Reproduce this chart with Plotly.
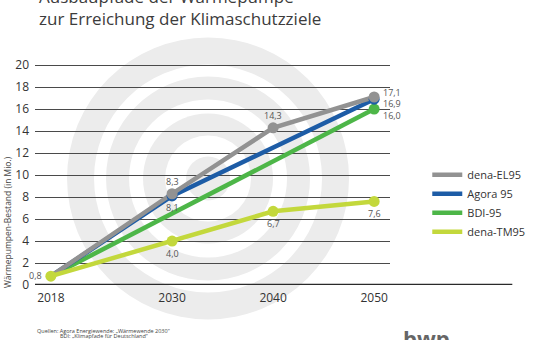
import plotly.graph_objects as go

years = [2018, 2030, 2040, 2050]
series_names = ["dena-EL95", "Agora 95", "BDI-95", "dena-TM95"]
dena_el95 = [0.8, 8.3, 14.3, 17.1]
agora95 = [0.8, 8.1, None, 16.9]
bdi95 = [0.8, None, None, 16.0]
dena_tm95 = [0.8, 4.0, 6.7, 7.6]
y_ticks = list(range(0, 21, 2))

colors = {
    "dena-EL95": "#929292",
    "Agora 95": "#1d5ca6",
    "BDI-95": "#4db648",
    "dena-TM95": "#c3d83c",
}
data = {
    "dena-EL95": dena_el95,
    "Agora 95": agora95,
    "BDI-95": bdi95,
    "dena-TM95": dena_tm95,
}
# which points carry markers
marker_idx = {
    "dena-EL95": [1, 2, 3],
    "Agora 95": [1, 3],
    "BDI-95": [3],
    "dena-TM95": [0, 1, 2, 3],
}
draw_order = ["BDI-95", "Agora 95", "dena-EL95", "dena-TM95"]
legend_rank = {n: i for i, n in enumerate(series_names)}

fig = go.Figure()
for name in draw_order:
    fig.add_trace(go.Scatter(
        x=years, y=data[name], mode="lines", name=name,
        connectgaps=True, line=dict(color=colors[name], width=4.5),
        legendrank=legend_rank[name] + 1, hoverinfo="skip",
    ))
for name in draw_order:
    idx = marker_idx[name]
    fig.add_trace(go.Scatter(
        x=[years[i] for i in idx], y=[data[name][i] for i in idx],
        mode="markers", showlegend=False,
        marker=dict(color=colors[name], size=11), hoverinfo="skip",
    ))

# data labels: (series, index, xshift, yshift)
label_specs = [
    ("dena-TM95", 0, -15, 1),
    ("dena-EL95", 1, 0, 12),
    ("Agora 95", 1, 0, -12),
    ("dena-TM95", 1, 0, -12),
    ("dena-EL95", 2, 0, 12),
    ("dena-TM95", 2, 0, -12),
    ("dena-TM95", 3, 0, -12),
    ("dena-EL95", 3, 18, 4),
    ("Agora 95", 3, 18, -4),
    ("BDI-95", 3, 18, -6),
]
annotations = []
for name, i, xs, ys in label_specs:
    v = data[name][i]
    annotations.append(dict(
        x=years[i], y=v, xref="x", yref="y", text=f"{v:.1f}".replace(".", ","),
        showarrow=False, xshift=xs, yshift=ys,
        font=dict(family="Open Sans", size=9, color="#555555"),
    ))

# Title
annotations.append(dict(x=0.005, y=1.305, xref="paper", yref="paper", xanchor="left", yanchor="middle",
                        text="Ausbaupfade der Wärmepumpe", showarrow=False,
                        font=dict(family="Open Sans", size=17, color="#3c3c3c")))
annotations.append(dict(x=0.005, y=1.205, xref="paper", yref="paper", xanchor="left", yanchor="middle",
                        text="zur Erreichung der Klimaschutzziele", showarrow=False,
                        font=dict(family="Open Sans", size=17, color="#3c3c3c")))
# Y axis title
annotations.append(dict(x=-0.078, y=0.286, xref="paper", yref="paper", xanchor="center", yanchor="middle",
                        text="Wärmepumpen-Bestand (in Mio.)", textangle=-90, showarrow=False,
                        font=dict(family="Open Sans", size=8.5, color="#444444")))
# Sources
annotations.append(dict(x=0.0, y=-0.210, xref="paper", yref="paper", xanchor="left", yanchor="middle",
                        text="Quellen: Agora Energiewende: „Wärmewende 2030“", showarrow=False,
                        font=dict(family="Open Sans", size=5.5, color="#444444")))
annotations.append(dict(x=0.064, y=-0.232, xref="paper", yref="paper", xanchor="left", yanchor="middle",
                        text="BDI: „Klimapfade für Deutschland“", showarrow=False,
                        font=dict(family="Open Sans", size=5.5, color="#444444")))
# Logo (mostly cut off at the bottom edge)
annotations.append(dict(x=1.03, y=-0.318, xref="paper", yref="paper", xanchor="left", yanchor="bottom",
                        text="<b>bwp</b>", showarrow=False,
                        font=dict(family="Open Sans", size=22, color="#666666")))

# Watermark rings (pixel-sized circles)
cx, cy = (209 - 35) / 357, (285 - 179) / 220
shapes = []
ring_radii = [141, 114, 102, 79, 65, 43, 22]
for k, r in enumerate(ring_radii):
    col = "#ececec" if k % 2 == 0 else "#ffffff"
    shapes.append(dict(type="circle", xref="paper", yref="paper",
                       xsizemode="pixel", ysizemode="pixel", xanchor=cx, yanchor=cy,
                       x0=-r, x1=r, y0=-r, y1=r, fillcolor=col, line=dict(width=0), layer="below"))
# Baseline axis extending under legend
shapes.append(dict(type="line", xref="paper", yref="y", x0=0, x1=(515 - 35) / 357, y0=0, y1=0,
                   line=dict(color="#2a2a2a", width=2.5), layer="above"))

fig.update_layout(
    width=542, height=340,
    margin=dict(l=35, r=150, t=64, b=55),
    paper_bgcolor="white", plot_bgcolor="rgba(0,0,0,0)",
    showlegend=True,
    legend=dict(x=1.105, y=0.565, xanchor="left", yanchor="top",
                font=dict(family="Open Sans", size=11, color="#333333"),
                itemwidth=30, tracegroupgap=0, bgcolor="rgba(0,0,0,0)"),
    xaxis=dict(range=[2016.43, 2051.57], tickvals=years, showgrid=False, zeroline=False,
               showline=False, ticks="", ticklabelstandoff=4,
               tickfont=dict(family="Open Sans", size=12, color="#333333"),
               fixedrange=True),
    yaxis=dict(range=[0, 20.1], tickvals=y_ticks, showgrid=True, gridcolor="#4a4a4a", gridwidth=1,
               zeroline=False, showline=False, ticks="", ticklabelstandoff=5,
               tickfont=dict(family="Open Sans", size=12, color="#333333"), fixedrange=True),
    annotations=annotations,
    shapes=shapes,
)

fig.write_html("out.html")
